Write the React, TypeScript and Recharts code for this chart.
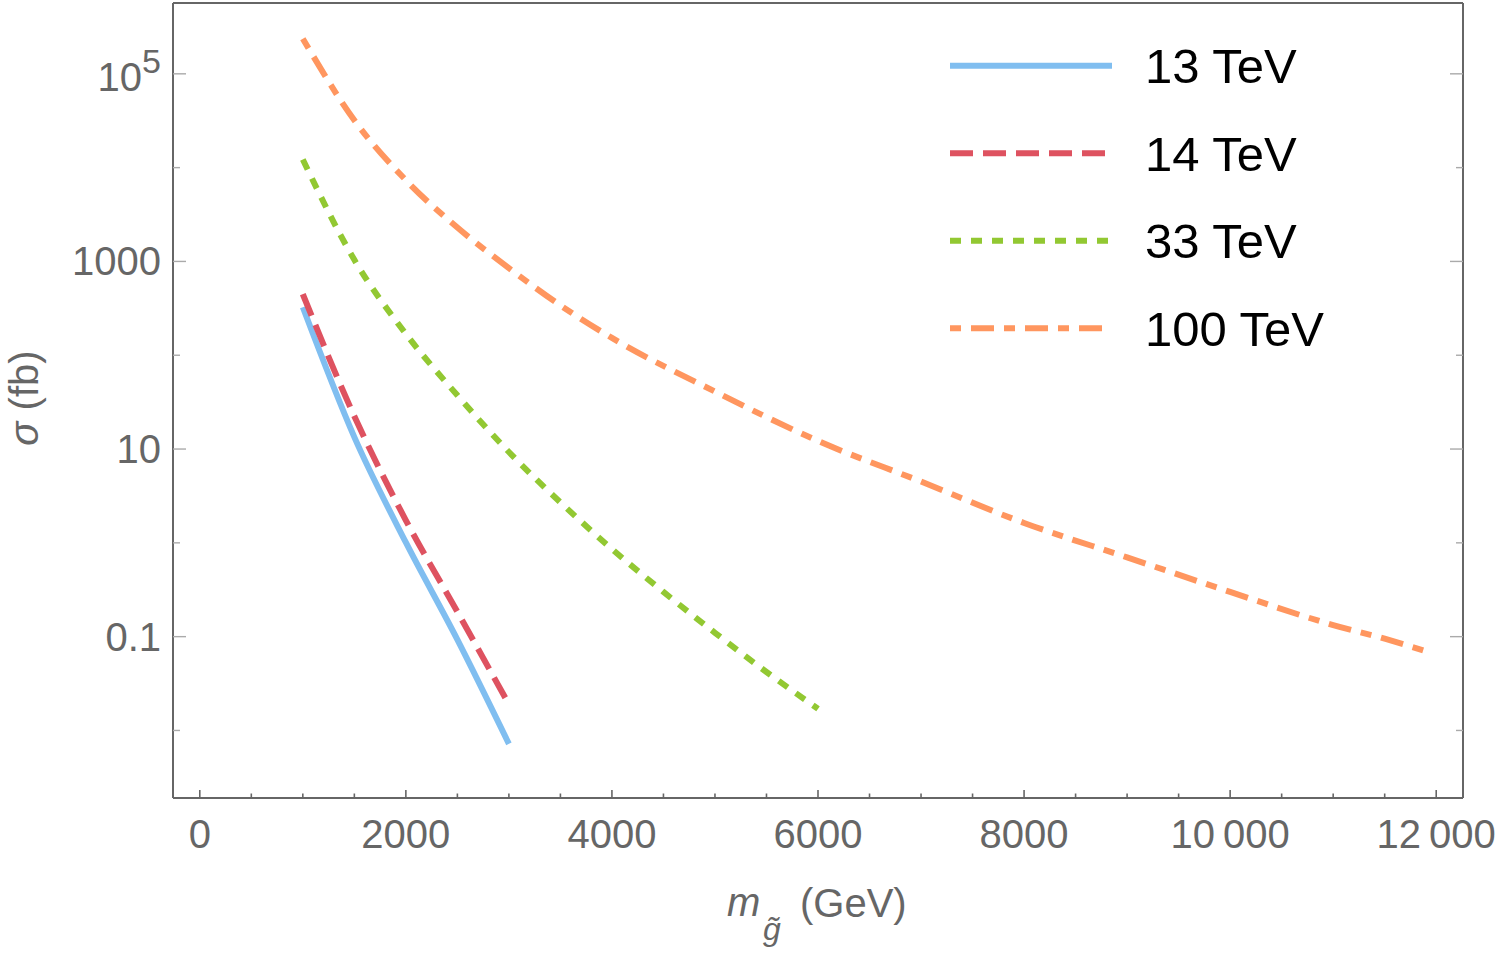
import React from 'react'
import { LineChart, Line, XAxis, YAxis, Legend } from 'recharts'

// gluino pair production cross sections (fb) vs gluino mass (GeV)
const massesLhc = [1000, 1500, 2000, 2500, 3000]
const sigma13 = [325, 13.4, 1.01, 0.093, 0.0072]
const sigma14 = [447, 22.4, 1.74, 0.184, 0.019]

const masses33 = [1000, 1500, 2000, 2500, 3000, 3500, 4000, 4500, 5000, 5500, 6000]
const sigma33 = [12200, 1040, 169, 37.4, 9.3, 2.7, 0.86, 0.3, 0.11, 0.042, 0.017]

const masses100 = [1000, 1500, 2000, 2500, 3000, 3500, 4000, 5000, 6000, 7000, 8000, 9000, 10000, 11000, 11500, 11900]
const sigma100 = [237000, 32000, 7350, 2300, 850, 340, 153, 41, 12.2, 4.5, 1.63, 0.7, 0.3, 0.133, 0.095, 0.07]

const seriesNames = ['13 TeV', '14 TeV', '33 TeV', '100 TeV']
const seriesColors = ['#80BEF0', '#DE5260', '#92C832', '#FF965F']
const seriesDashes = [undefined, '23 10', '11 10', '11 10 23 10']

const xTicks = [0, 500, 1000, 1500, 2000, 2500, 3000, 3500, 4000, 4500, 5000, 5500, 6000, 6500, 7000, 7500, 8000, 8500, 9000, 9500, 10000, 10500, 11000, 11500, 12000]
const xMajor = [0, 2000, 4000, 6000, 8000, 10000, 12000]
const yTicks = [0.01, 0.1, 1, 10, 100, 1000, 10000, 100000]
const yMajor = [0.1, 10, 1000, 100000]

const FONT = '"Liberation Sans", Arial, sans-serif'
const GREY = '#666666'

const toPoints = (masses: number[], sigma: number[]) => masses.map((m, i) => ({ m, sigma: sigma[i] }))

const series = [
  toPoints(massesLhc, sigma13),
  toPoints(massesLhc, sigma14),
  toPoints(masses33, sigma33),
  toPoints(masses100, sigma100),
]

const fmtX = (v: number) => (v >= 10000 ? `${Math.floor(v / 1000)}\u2009${String(v % 1000).padStart(3, '0')}` : String(v))

const BottomTick = (props: any) => {
  const { x, y, payload } = props
  const major = xMajor.includes(payload.value)
  return (
    <g>
      <line x1={x} x2={x} y1={y} y2={y - (major ? 8 : 4.5)} stroke={GREY} strokeWidth={1.6} />
      {major && (
        <text x={x} y={y + 50} textAnchor="middle" fill={GREY} fontSize={40} fontFamily={FONT}>
          {fmtX(payload.value)}
        </text>
      )}
    </g>
  )
}

const TopTick = (props: any) => {
  const { x, y, payload } = props
  const major = xMajor.includes(payload.value)
  return <line x1={x} x2={x} y1={y} y2={y + (major ? 8 : 4.5)} stroke={GREY} strokeWidth={1.6} />
}

const LeftTick = (props: any) => {
  const { x, y, payload } = props
  const v = payload.value
  const major = yMajor.includes(v)
  let label: React.ReactNode = null
  if (major) {
    label =
      v === 100000 ? (
        <text x={x - 12} y={y + 17} textAnchor="end" fill={GREY} fontSize={40} fontFamily={FONT}>
          10
          <tspan dy={-18} fontSize={34}>5</tspan>
        </text>
      ) : (
        <text x={x - 12} y={y + 14} textAnchor="end" fill={GREY} fontSize={40} fontFamily={FONT}>
          {String(v)}
        </text>
      )
  }
  return (
    <g>
      <line x1={x} x2={x + (major ? 13 : 7)} y1={y} y2={y} stroke="#aaaaaa" strokeWidth={1.4} />
      {label}
    </g>
  )
}

const RightTick = (props: any) => {
  const { x, y, payload } = props
  const major = yMajor.includes(payload.value)
  return <line x1={x} x2={x - (major ? 13 : 7)} y1={y} y2={y} stroke="#aaaaaa" strokeWidth={1.4} />
}

// gluino mass title: italic m with a g-tilde subscript
const XTitle = () => (
  <g fill={GREY} fontFamily={FONT}>
    <text x={727} y={916} fontSize={40} fontStyle="italic">m</text>
    <text x={763} y={940} fontSize={32} fontStyle="italic">g{'\u0303'}</text>
    <text x={800} y={917} fontSize={40}>(GeV)</text>
  </g>
)

const YTitle = () => (
  <text
    x={38}
    y={398}
    transform="rotate(-90, 38, 398)"
    textAnchor="middle"
    fill={GREY}
    fontSize={40}
    fontFamily={FONT}
  >
    <tspan fontStyle="italic">σ</tspan> (fb)
  </text>
)

const LegendBox = () => (
  <svg width={420} height={340} style={{ overflow: 'visible' }}>
    {seriesNames.map((name, i) => {
      const cy = 45.7 + i * 87.5
      return (
        <g key={name}>
          <line
            x1={10}
            x2={172}
            y1={cy}
            y2={cy}
            stroke={seriesColors[i]}
            strokeWidth={6}
            strokeDasharray={seriesDashes[i]}
          />
          <text x={205} y={cy + 17.5} fontSize={49} fill="#000" fontFamily={FONT}>
            {name}
          </text>
        </g>
      )
    })}
  </svg>
)

export default function App() {
  return (
    <div style={{ position: 'absolute', left: 0, top: 0, width: 1500, height: 957, background: '#fff' }}>
      <LineChart width={1500} height={957} margin={{ top: 1, right: 0, bottom: 0, left: 0 }}>
        <XAxis
          dataKey="m"
          type="number"
          domain={[-260, 12260]}
          allowDataOverflow
          ticks={xTicks}
          interval={0}
          tick={<BottomTick />}
          tickLine={false}
          tickSize={0}
          tickMargin={0}
          height={159}
          axisLine={{ stroke: GREY, strokeWidth: 2 }}
          label={<XTitle />}
        />
        <XAxis
          xAxisId="top"
          orientation="top"
          type="number"
          domain={[-260, 12260]}
          allowDataOverflow
          ticks={xTicks}
          interval={0}
          tick={<TopTick />}
          tickLine={false}
          tickSize={0}
          tickMargin={0}
          height={2}
          axisLine={{ stroke: GREY, strokeWidth: 2 }}
        />
        <YAxis
          type="number"
          scale="log"
          domain={[0.001905, 568850]}
          allowDataOverflow
          ticks={yTicks}
          interval={0}
          tick={<LeftTick />}
          tickLine={false}
          tickSize={0}
          tickMargin={0}
          width={173}
          axisLine={{ stroke: GREY, strokeWidth: 2 }}
          label={<YTitle />}
        />
        <YAxis
          yAxisId="right"
          orientation="right"
          type="number"
          scale="log"
          domain={[0.001905, 568850]}
          allowDataOverflow
          ticks={yTicks}
          interval={0}
          tick={<RightTick />}
          tickLine={false}
          tickSize={0}
          tickMargin={0}
          width={37}
          axisLine={{ stroke: GREY, strokeWidth: 2 }}
        />
        {series.map((pts, i) => (
          <Line
            key={seriesNames[i]}
            data={pts}
            dataKey="sigma"
            name={seriesNames[i]}
            type="monotone"
            stroke={seriesColors[i]}
            strokeWidth={6}
            strokeDasharray={seriesDashes[i]}
            dot={false}
            activeDot={false}
            isAnimationActive={false}
          />
        ))}
        <Legend
          layout="vertical"
          align="center"
          verticalAlign="middle"
          wrapperStyle={{ position: 'absolute', left: 940, top: 20, width: 420, height: 340 }}
          content={() => <LegendBox />}
        />
      </LineChart>
    </div>
  )
}
